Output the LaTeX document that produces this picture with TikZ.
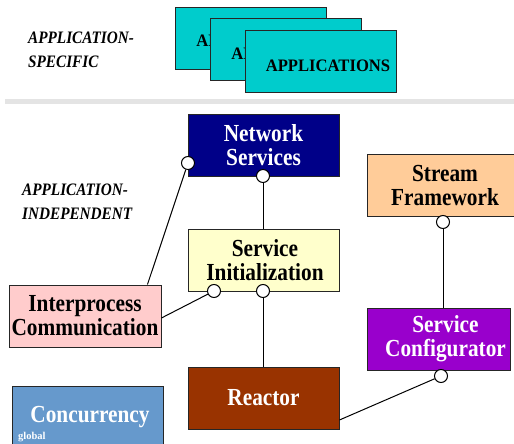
\documentclass[tikz,border=0pt]{standalone}
\usepackage{fontspec}
\setmainfont{Liberation Serif}
\newfontfamily\condserif[FakeStretch=0.87]{Liberation Serif}
\newfontfamily\appserif[FakeStretch=0.95]{Liberation Serif}
\definecolor{appcyan}{HTML}{00CCCC}
\definecolor{netblue}{HTML}{000088}
\definecolor{inityellow}{HTML}{FFFFCC}
\definecolor{streampeach}{HTML}{FFCC99}
\definecolor{ipcpink}{HTML}{FFCCCC}
\definecolor{cfgpurple}{HTML}{9900CC}
\definecolor{reactbrown}{HTML}{993300}
\definecolor{concblue}{HTML}{6699CC}
\definecolor{rulegray}{HTML}{E4E4E4}
\begin{document}
\begin{tikzpicture}[x=1pt,y=-1pt,
  blk/.style={draw=black!85, line width=0.9pt, inner sep=0pt,
    minimum width=151pt, minimum height=62pt, align=center,
    font=\condserif\fontsize{24.5}{24}\selectfont\bfseries},
  appbox/.style={blk, fill=appcyan, text height=12pt, text depth=0pt,
    font=\appserif\fontsize{17.5}{20}\selectfont\bfseries},
  port/.style={circle, draw=black, fill=white, line width=1pt,
    minimum size=13pt, inner sep=0pt},
  wire/.style={line width=1pt, black},
  tag/.style={font=\condserif\fontsize{17.5}{24}\selectfont\bfseries\itshape,
    align=left, anchor=west, inner sep=0pt}]
\useasboundingbox (0,0) rectangle (514,444);
\clip (0,0) rectangle (514,444);

% layer labels
\node[tag] (lblspec) at (28,50) {APPLICATION-\\SPECIFIC};
\node[tag] (lblindep) at (22,202) {APPLICATION-\\INDEPENDENT};

% stacked application boxes
\node[appbox] (app1) at (251,38) {\hspace*{15pt}\raisebox{-3pt}{APPLICATIONS}};
\node[appbox] (app2) at (286,49.5) {\hspace*{15pt}\raisebox{-4pt}{APPLICATIONS}};
\node[appbox] (app3) at (320.5,61.5) {\hspace*{15pt}\raisebox{-4pt}{APPLICATIONS}};

% separator between the two layers
\draw[line width=4.5pt, rulegray] (5,101.5) -- (514,101.5);

% framework components
\node[blk, fill=netblue, text=white] (ns) at (263.5,145) {Network\\Services};
\node[blk, fill=inityellow] (si) at (263.5,260) {\hspace*{3pt}Service\\\hspace*{3pt}Initialization};
\node[blk, fill=streampeach] (sf) at (442.5,185.5) {\hspace*{5pt}Stream\\\hspace*{5pt}Framework};
\node[blk, fill=ipcpink, minimum width=152pt] (ipc) at (85,316) {Interprocess\\Communication};
\node[blk, fill=cfgpurple, text=white, minimum width=143pt] (sc) at (438.5,339) {\hspace*{14pt}Service\\\hspace*{14pt}Configurator};
\node[blk, fill=reactbrown, text=white] (re) at (263.5,398) {Reactor};
\node[blk, fill=concblue, text=white] (cc) at (87.5,417) {\hspace*{5pt}Concurrency};
\node[anchor=west, inner sep=0pt, text=white, font=\fontsize{10.5}{12}\selectfont\bfseries] (ccg) at (18,437) {global};

% attachment points
\node[port] (nsA) at (188,163) {};
\node[port] (nsB) at (263,176) {};
\node[port] (siA) at (214,291) {};
\node[port] (siB) at (263,291) {};
\node[port] (sfP) at (443,222) {};
\node[port] (scP) at (441,376) {};

% connectors
\draw[wire] (nsA) -- ([xshift=-14pt]ipc.north east);
\draw[wire] (siA) -- ([yshift=-2pt]ipc.east);
\draw[wire] (nsB) -- (si.north -| nsB);
\draw[wire] (siB) -- (re.north -| siB);
\draw[wire] (sfP) -- (sc.north -| sfP);
\draw[wire] (scP) -- ([yshift=-22pt]re.east);
\end{tikzpicture}
\end{document}
